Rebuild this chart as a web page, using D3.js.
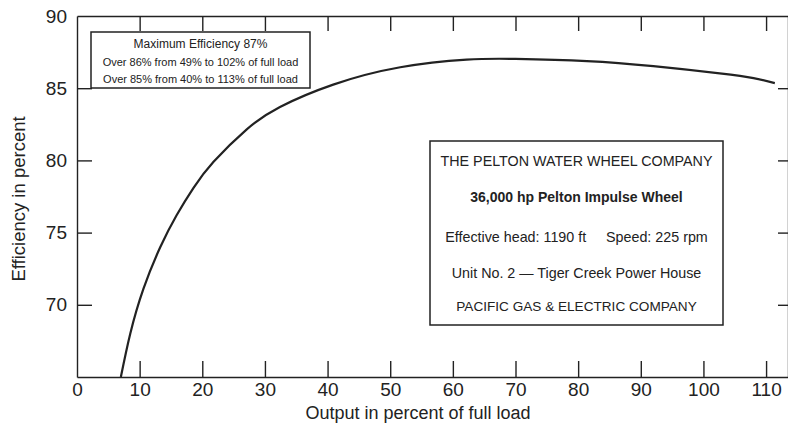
<!DOCTYPE html>
<html><head><meta charset="utf-8">
<script src="https://cdn.jsdelivr.net/npm/d3@7"></script>
<style>
html,body{margin:0;padding:0;background:#fff;}
svg{display:block;}
text{font-family:"Liberation Sans",Arial,Helvetica,sans-serif;fill:#222;}
</style></head>
<body><svg id="chart" width="788" height="433"></svg>
<script>
// Data
const loadPct = [7.0, 8.5, 10.6, 13.3, 15.9, 18.6, 21.8, 27.1, 32.4, 40.9, 51.6, 62.2, 70.0, 81.4, 92.0, 102.6, 108.0, 111.4];
const efficiency = [65.0, 68.0, 71.1, 74.0, 76.2, 78.1, 79.9, 82.15, 83.7, 85.25, 86.45, 86.98, 87.03, 86.88, 86.53, 86.03, 85.7, 85.35];
const xTicks = [0, 10, 20, 30, 40, 50, 60, 70, 80, 90, 100, 110];
const yTicks = [70, 75, 80, 85, 90];
const legendLines = ["Maximum Efficiency 87%", "Over 86% from 49% to 102% of full load", "Over 85% from 40% to 113% of full load"];
const infoLines = ["THE PELTON WATER WHEEL COMPANY", "36,000 hp Pelton Impulse Wheel", "Effective head: 1190 ft     Speed: 225 rpm", "Unit No. 2 \u2014 Tiger Creek Power House", "PACIFIC GAS & ELECTRIC COMPANY"];
const xTitle = "Output in percent of full load";
const yTitle = "Efficiency in percent";

const svg = d3.select("#chart");
const ink = "#222";
const x = d3.scaleLinear().domain([0, 113.5]).range([77, 788]);
const y = d3.scaleLinear().domain([65, 90]).range([377, 16]);

function styleAxis(g){
  g.selectAll(".domain").attr("stroke", ink).attr("stroke-width", 1.4);
  g.selectAll(".tick line").attr("stroke", ink).attr("stroke-width", 1.4);
  g.selectAll(".tick text").attr("fill", ink).style("font-size", "19px").style("font-family", "'Liberation Sans',Arial,sans-serif");
}

// bottom axis
svg.append("g").attr("transform", `translate(0,${y(65)})`)
  .call(d3.axisBottom(x).tickValues(xTicks).tickSizeInner(-16).tickSizeOuter(0).tickPadding(6).tickFormat(d3.format("d")))
  .call(styleAxis)
  .call(g => g.selectAll(".tick").filter(d => d === 0).select("line").remove());
// top axis
svg.append("g").attr("transform", `translate(0,${y(90)})`)
  .call(d3.axisTop(x).tickValues(xTicks.filter(d => d > 0)).tickSizeInner(-15).tickSizeOuter(0).tickFormat(""))
  .call(styleAxis);
// left axis
svg.append("g").attr("transform", `translate(${x(0)},0)`)
  .call(d3.axisLeft(y).tickValues(yTicks).tickSizeInner(-15).tickSizeOuter(0).tickPadding(10).tickFormat(d3.format("d")))
  .call(styleAxis)
  .call(g => g.selectAll(".tick").filter(d => d === 90).select("line").remove());
// right axis ticks
svg.append("g").attr("transform", `translate(${x(113.5)},0)`)
  .call(d3.axisRight(y).tickValues(yTicks.filter(d => d < 90)).tickSizeInner(-10).tickSizeOuter(0).tickFormat(""))
  .call(styleAxis);

// curve
const line = d3.line().x((d, i) => x(loadPct[i])).y(d => y(d)).curve(d3.curveNatural);
svg.append("path").datum(efficiency).attr("d", line)
  .attr("fill", "none").attr("stroke", ink).attr("stroke-width", 2.2);

// axis titles
svg.append("text").attr("x", 418).attr("y", 419).attr("text-anchor", "middle")
  .style("font-size", "18px").text(xTitle);
svg.append("text").attr("transform", "translate(25,199) rotate(-90)").attr("text-anchor", "middle")
  .style("font-size", "18.5px").text(yTitle);

// legend box
svg.append("rect").attr("x", 91).attr("y", 32).attr("width", 219).attr("height", 56)
  .attr("fill", "#fff").attr("stroke", ink).attr("stroke-width", 1.5);
const lg = [48, 66, 83];
legendLines.forEach((t, i) => {
  svg.append("text").attr("x", 200.5).attr("y", lg[i]).attr("text-anchor", "middle")
    .style("font-size", i === 0 ? "12px" : "11px").text(t);
});

// info box
svg.append("rect").attr("x", 430).attr("y", 141).attr("width", 293).attr("height", 184)
  .attr("fill", "#fff").attr("stroke", ink).attr("stroke-width", 1.5);
const ib = [166, 201.5, 241.5, 278, 310.5];
const ibSize = [14.3, 14, 14.3, 14.3, 13.6];
infoLines.forEach((t, i) => {
  svg.append("text").attr("x", 576.5).attr("y", ib[i]).attr("text-anchor", "middle")
    .style("font-size", ibSize[i] + "px").style("font-weight", i === 1 ? "bold" : "normal")
    .attr("xml:space", "preserve").style("white-space", "pre").text(t);
});
</script></body></html>
